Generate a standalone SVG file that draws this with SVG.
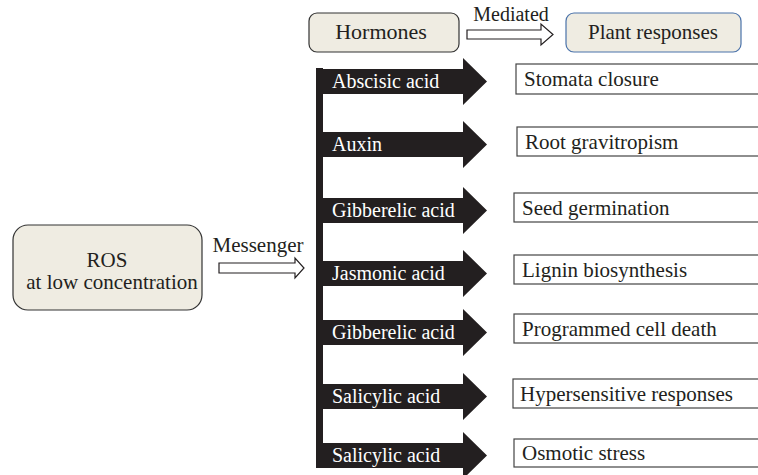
<svg xmlns="http://www.w3.org/2000/svg" width="758" height="475" viewBox="0 0 758 475">
<style>
text{font-family:"Liberation Serif","Times New Roman",serif;font-size:21px;fill:#231f20}
.w{fill:#ffffff;font-size:20px}
.c{text-anchor:middle}
.beige{fill:#efece2;stroke:#333333;stroke-width:1.2}
.blue{fill:#efece2;stroke:#4a72aa;stroke-width:1.2}
.ha{fill:#231f20}
.resp{fill:#ffffff;stroke:#444444;stroke-width:1.2}
.hollow{fill:#ffffff;stroke:#231f20;stroke-width:1.2}
</style>
<rect width="758" height="475" fill="#ffffff"/>
<g id="connectors">
<path class="hollow" d="M467,30 H541 V24 L553,34.5 L541,45 V39 H467 Z"/>
<text x="511" y="21" class="c" style="font-size:20px">Mediated</text>
<path class="hollow" d="M219,263 H295 V258 L304,268 L295,278 V273 H219 Z"/>
<text x="258" y="252" class="c">Messenger</text>
<rect x="316" y="68" width="7" height="400" fill="#231f20"/>
</g>
<g id="hormones"><rect class="beige" x="309" y="13" width="150" height="39" rx="8"/><text x="381" y="39" class="c" style="font-size:22px">Hormones</text></g>
<g id="plant-responses"><rect class="blue" x="566" y="13" width="175" height="39" rx="8"/><text x="653" y="39" class="c">Plant responses</text></g>
<g id="ros"><rect class="beige" x="13" y="225" width="189" height="85" rx="15"/><text x="107" y="267" class="c">ROS</text><text x="112" y="289" class="c">at low concentration</text></g>
<g id="h-abscisic"><path class="ha" d="M316,69 H463 V58 L487,81.5 L463,105 V94 H316 Z"/><text x="332" y="88" class="w">Abscisic acid</text></g>
<g id="h-auxin"><path class="ha" d="M316,132 H463 V121 L487,144.5 L463,168 V157 H316 Z"/><text x="332" y="151" class="w">Auxin</text></g>
<g id="h-gibberelic1"><path class="ha" d="M316,198 H463 V187 L487,210.5 L463,234 V223 H316 Z"/><text x="332" y="217" class="w">Gibberelic acid</text></g>
<g id="h-jasmonic"><path class="ha" d="M316,261 H463 V250 L487,273.5 L463,297 V286 H316 Z"/><text x="332" y="280" class="w">Jasmonic acid</text></g>
<g id="h-gibberelic2"><path class="ha" d="M316,320 H463 V309 L487,332.5 L463,356 V345 H316 Z"/><text x="332" y="339" class="w">Gibberelic acid</text></g>
<g id="h-salicylic1"><path class="ha" d="M316,384 H463 V373 L487,396.5 L463,420 V409 H316 Z"/><text x="332" y="403" class="w">Salicylic acid</text></g>
<g id="h-salicylic2"><path class="ha" d="M316,443 H463 V432 L487,455.5 L463,479 V468 H316 Z"/><text x="332" y="462" class="w">Salicylic acid</text></g>
<g id="r-stomata"><rect class="resp" x="516" y="64" width="250" height="30"/><text x="524" y="86">Stomata closure</text></g>
<g id="r-root"><rect class="resp" x="517" y="127" width="250" height="29"/><text x="525" y="149">Root gravitropism</text></g>
<g id="r-seed"><rect class="resp" x="514" y="193" width="250" height="29"/><text x="522" y="215">Seed germination</text></g>
<g id="r-lignin"><rect class="resp" x="514" y="255" width="250" height="29"/><text x="522" y="277">Lignin biosynthesis</text></g>
<g id="r-pcd"><rect class="resp" x="514" y="314" width="250" height="29"/><text x="522" y="336">Programmed cell death</text></g>
<g id="r-hyper"><rect class="resp" x="513" y="379" width="250" height="29"/><text x="520" y="401">Hypersensitive responses</text></g>
<g id="r-osmotic"><rect class="resp" x="514" y="439" width="250" height="28"/><text x="522" y="460">Osmotic stress</text></g>
</svg>
